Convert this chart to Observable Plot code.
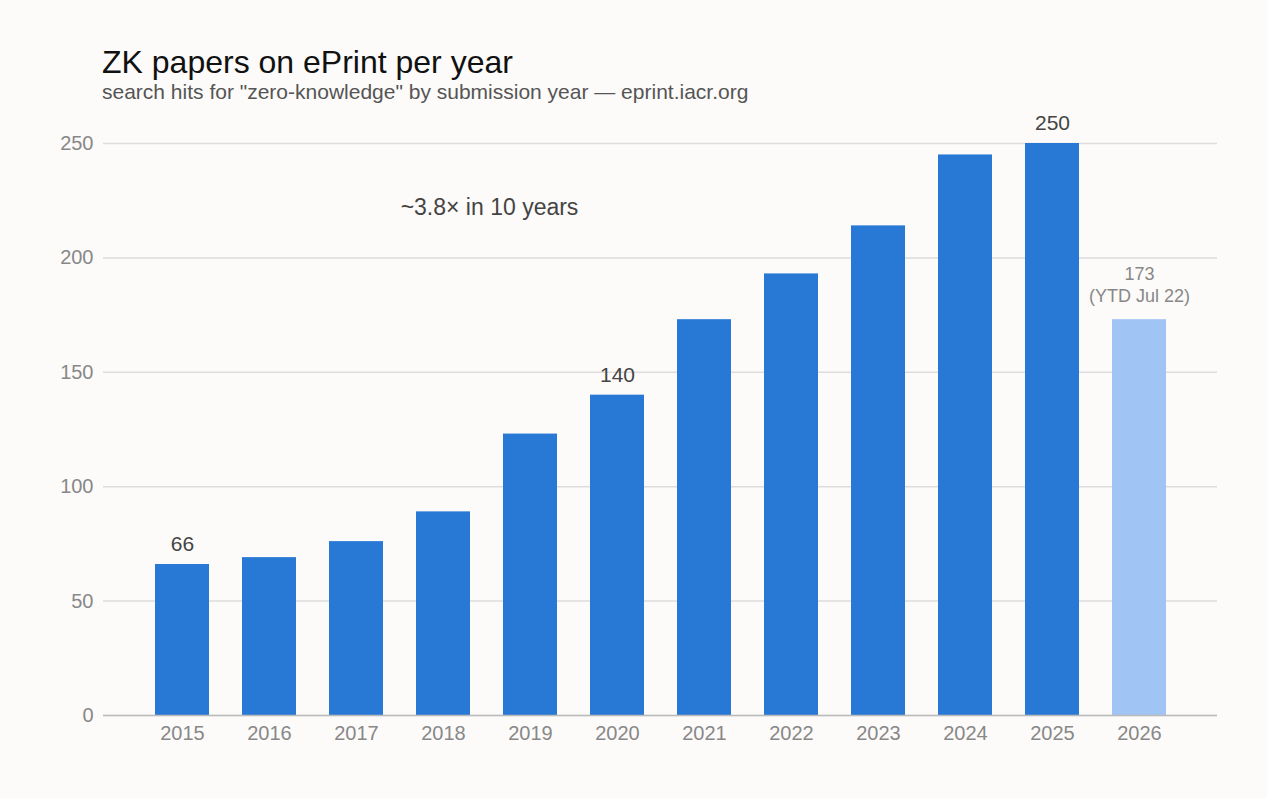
<!DOCTYPE html>
<html><head><meta charset="utf-8">
<script src="https://cdn.jsdelivr.net/npm/d3@7"></script>
<script src="https://cdn.jsdelivr.net/npm/@observablehq/plot@0.6"></script>
<style>
body{margin:0;background:#fcfbf9;font-family:"Liberation Sans",Arial,sans-serif;}
#wrap{position:relative;width:1267px;height:798px;}
#title{position:absolute;left:102px;top:44px;font-size:32px;color:#111;}
#sub{position:absolute;left:102px;top:80px;font-size:21px;color:#555;}
#chart{position:absolute;left:0;top:110px;}
</style></head><body>
<div id="wrap">
<div id="title">ZK papers on ePrint per year</div>
<div id="sub">search hits for "zero-knowledge" by submission year — eprint.iacr.org</div>
<div id="chart"></div>
</div>
<script>
const years = ["2015","2016","2017","2018","2019","2020","2021","2022","2023","2024","2025","2026"];
const counts = [66,69,76,89,123,140,173,193,214,245,250,173];
const partial = [false,false,false,false,false,false,false,false,false,false,false,true];
const labelYears = ["2015","2020","2025"];
const yTicks = [0,50,100,150,200,250];
const note = "~3.8× in 10 years";
const ytdLabel = "173\n(YTD Jul 22)";

const data = years.map((y,i)=>({year:y,count:counts[i],partial:partial[i]}));
const full = data.filter(d=>labelYears.includes(d.year));
const last = data.filter(d=>d.partial);

const chart = Plot.plot({
  width:1267, height:665,
  marginLeft:103, marginRight:50, marginTop:33, marginBottom:60,
  style:{background:"transparent",fontFamily:"Liberation Sans, Arial, sans-serif",fontSize:"20px"},
  x:{domain:years,paddingInner:0.38,paddingOuter:0.565,label:null,tickSize:0,tickPadding:10},
  y:{domain:[0,250],ticks:yTicks,label:null,tickSize:0,tickPadding:10},
  marks:[
    Plot.gridY(yTicks,{stroke:"#dddddd",strokeOpacity:1,strokeWidth:1.5}),
    Plot.axisY(yTicks,{tickSize:0,color:"#888",fontSize:20,tickPadding:10}),
    Plot.axisX({tickSize:0,color:"#888",fontSize:20,tickPadding:10}),
    Plot.barY(data,{x:"year",y:"count",fill:d=>d.partial?"#a0c4f4":"#2878d6"}),
    Plot.ruleY([0],{stroke:"#bbb",strokeWidth:1.5}),
    Plot.text(full,{x:"year",y:"count",text:d=>String(d.count),dy:-20,fill:"#444",fontSize:21}),
    Plot.text(last,{x:"year",y:"count",text:()=>ytdLabel,dy:-36,fill:"#888",fontSize:18,lineHeight:1.25}),
    Plot.text([note],{x:()=>"2018",y:()=>222,text:d=>d,dx:46,fill:"#444",fontSize:23})
  ]
});
document.getElementById("chart").append(chart);
</script>
</body></html>
